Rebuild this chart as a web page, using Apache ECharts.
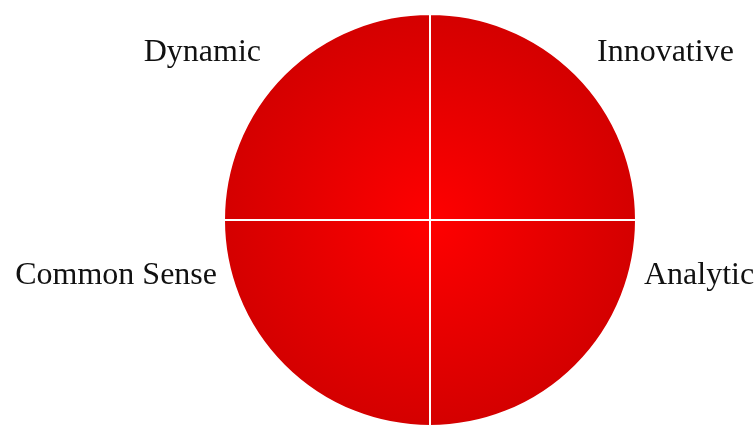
<!DOCTYPE html>
<html><head><meta charset="utf-8">
<style>html,body{margin:0;padding:0;background:#fff}#c{width:755px;height:430px}</style>
<script src="https://cdn.jsdelivr.net/npm/echarts@6/dist/echarts.min.js"></script>
</head><body><div id="c"></div>
<script>
const categories = ['Innovative', 'Analytic', 'Common Sense', 'Dynamic'];
const values = [25, 25, 25, 25];

const chart = echarts.init(document.getElementById('c'), null, {renderer: 'canvas'});
const cx = 430, cy = 220, R = 206;
const labelSpots = [
  {x: 597, y: 53, align: 'left'},
  {x: 644, y: 276, align: 'left'},
  {x: 217, y: 276, align: 'right'},
  {x: 261, y: 53, align: 'right'}
];
chart.setOption({
  animation: false,
  series: [{
    type: 'pie',
    center: [cx, cy],
    radius: [0, R],
    startAngle: 90,
    clockwise: true,
    data: categories.map((n, i) => ({name: n, value: values[i]})),
    itemStyle: {
      color: new echarts.graphic.RadialGradient(cx, cy, R, [
        {offset: 0, color: '#ff0000'},
        {offset: 1, color: '#d40000'}
      ], true),
      borderColor: '#ffffff',
      borderWidth: 2
    },
    label: {
      show: true,
      position: 'outside',
      formatter: '{b}',
      fontFamily: 'Liberation Serif',
      fontSize: 32,
      color: '#111',
      overflow: 'none'
    },
    labelLine: {show: false},
    labelLayout: function (p) {
      const s = labelSpots[p.dataIndex];
      return {x: s.x, y: s.y, align: s.align, verticalAlign: 'middle'};
    },
    emphasis: {disabled: true}
  }]
});
</script></body></html>
